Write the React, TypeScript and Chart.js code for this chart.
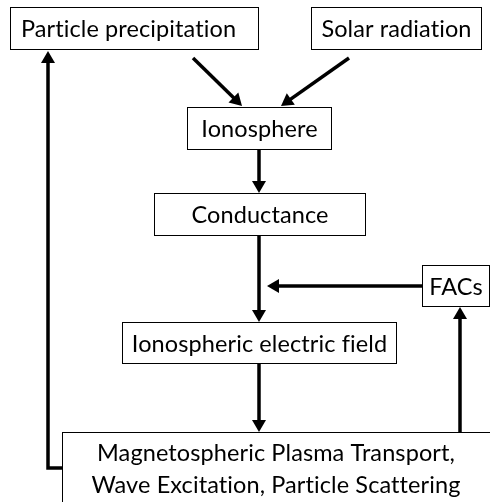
import { useEffect, useRef } from "react";
import { Chart, registerables } from "chart.js";

Chart.register(...registerables);

// Node labels (one entry per box, multiple lines allowed)
const boxLabels: string[][] = [
  ["Particle precipitation"],
  ["Solar radiation"],
  ["Ionosphere"],
  ["Conductance"],
  ["FACs"],
  ["Ionospheric electric field"],
  ["Magnetospheric Plasma Transport,", "Wave Excitation, Particle Scattering"],
];

// Box extents in diagram units (x: 0..490, y: 0..502 top-down)
const boxLeft = [10, 311, 187, 154, 422, 122, 62];
const boxRight = [258, 481, 331, 365, 489, 396, 520];
const boxTop = [7, 7, 107, 193, 265, 322, 432];
const boxBottom = [49, 49, 149, 235, 306, 363, 530];

// Arrow paths: last point is the arrow tip
const arrowPaths: number[][][] = [
  [[193, 58], [242, 106]],
  [[349, 58], [281, 106]],
  [[259, 149], [259, 193]],
  [[259, 235], [259, 322]],
  [[422, 286], [267, 286]],
  [[259, 363], [259, 432]],
  [[460, 432], [460, 307]],
  [[62, 468], [48, 468], [48, 51]],
];

const FONT = "23.5px Lato";
const LINE_GAP = 32;

const diagramPlugin = {
  id: "diagram",
  afterDraw(chart: any) {
    const ctx = chart.ctx;
    const xs = chart.scales.x;
    const ys = chart.scales.y;
    const px = (v: number) => xs.getPixelForValue(v);
    const py = (v: number) => ys.getPixelForValue(v);
    ctx.save();

    // arrows
    ctx.strokeStyle = "#000";
    ctx.fillStyle = "#000";
    ctx.lineWidth = 3.5;
    ctx.lineJoin = "miter";
    ctx.lineCap = "butt";
    const headLen = 12;
    const headHalf = 7;
    arrowPaths.forEach((path) => {
      const pts = path.map(([x, y]) => [px(x), py(y)]);
      const n = pts.length;
      const [tx, ty] = pts[n - 1];
      const [sx, sy] = pts[n - 2];
      const dx = tx - sx;
      const dy = ty - sy;
      const len = Math.hypot(dx, dy);
      const ux = dx / len;
      const uy = dy / len;
      const bx = tx - ux * headLen;
      const by = ty - uy * headLen;
      ctx.beginPath();
      ctx.moveTo(pts[0][0], pts[0][1]);
      for (let i = 1; i < n - 1; i++) ctx.lineTo(pts[i][0], pts[i][1]);
      ctx.lineTo(bx + ux, by + uy);
      ctx.stroke();
      ctx.beginPath();
      ctx.moveTo(tx, ty);
      ctx.lineTo(bx - uy * headHalf, by + ux * headHalf);
      ctx.lineTo(bx + uy * headHalf, by - ux * headHalf);
      ctx.closePath();
      ctx.fill();
    });

    // boxes
    ctx.font = FONT;
    try {
      (ctx as any).letterSpacing = "0.1px";
    } catch (e) {}
    ctx.textAlign = "center";
    ctx.textBaseline = "middle";
    boxLabels.forEach((lines, i) => {
      const l = Math.round(px(boxLeft[i])) + 0.5;
      const r = Math.round(px(boxRight[i])) + 0.5;
      const t = Math.round(py(boxTop[i])) + 0.5;
      const b = Math.round(py(boxBottom[i])) + 0.5;
      ctx.fillStyle = "#fff";
      ctx.fillRect(l, t, r - l, b - t);
      ctx.strokeStyle = "#000";
      ctx.lineWidth = 1;
      ctx.strokeRect(l, t, r - l, b - t);
      ctx.fillStyle = "#000";
      let cx = (l + r) / 2;
      let cy = (t + b) / 2 + 1;
      if (i === 0) cx -= 6;
      if (lines.length > 1) {
        cx = 276;
        cy = t + 21;
      }
      lines.forEach((s, k) => {
        ctx.fillText(s, cx, cy + k * LINE_GAP);
      });
    });
    ctx.restore();
  },
};

export default function App() {
  const ref = useRef<HTMLCanvasElement | null>(null);
  useEffect(() => {
    if (!ref.current) return;
    const chart = new Chart(ref.current, {
      type: "scatter",
      data: {
        datasets: [
          {
            data: boxLabels.map((_, i) => ({
              x: (boxLeft[i] + boxRight[i]) / 2,
              y: (boxTop[i] + boxBottom[i]) / 2,
            })),
            pointRadius: 0,
          },
        ],
      },
      options: {
        animation: false,
        responsive: false,
        events: [],
        layout: { padding: 0 },
        plugins: { legend: { display: false }, tooltip: { enabled: false } },
        scales: {
          x: { type: "linear", min: 0, max: 490, display: false },
          y: { type: "linear", min: 0, max: 502, reverse: true, display: false },
        },
      },
      plugins: [diagramPlugin],
    });
    return () => chart.destroy();
  }, []);
  return (
    <div style={{ position: "fixed", left: 0, top: 0, width: 490, height: 502, background: "#fff" }}>
      <canvas ref={ref} width={490} height={502} style={{ display: "block" }} />
    </div>
  );
}
